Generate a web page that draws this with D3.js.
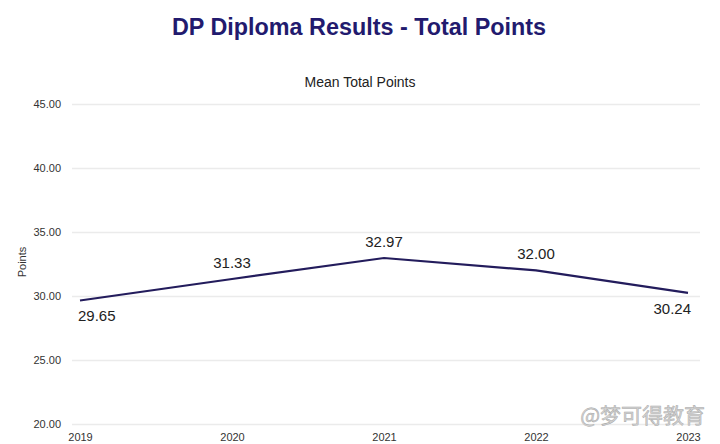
<!DOCTYPE html>
<html>
<head>
<meta charset="utf-8">
<script src="https://cdn.jsdelivr.net/npm/d3@7"></script>
<style>
  body { margin: 0; background: #fff; }
  svg { display: block; font-family: "Liberation Sans", Arial, sans-serif; }
</style>
</head>
<body>
<svg id="vis" width="720" height="444"></svg>
<script>
// chart data
var years = ["2019", "2020", "2021", "2022", "2023"];
var meanPoints = [29.65, 31.33, 32.97, 32.00, 30.24];
var yTicks = [20, 25, 30, 35, 40, 45];

var W = 720, H = 444;
var svg = d3.select("#vis");

// plot area (not "top" -- that's window.top)
var plotLeft = 72, plotRight = 700, plotTop = 104, plotBottom = 424;

var x = d3.scalePoint().domain(years).range([80, 688]);
var y = d3.scaleLinear().domain([20, 45]).range([plotBottom, plotTop]);

// title + subtitle
svg.append("text")
    .attr("x", 359).attr("y", 35)
    .attr("text-anchor", "middle")
    .attr("font-size", 23.5).attr("font-weight", "bold")
    .attr("fill", "#221a6e")
    .attr("textLength", 374).attr("lengthAdjust", "spacingAndGlyphs")
    .text("DP Diploma Results - Total Points");

svg.append("text")
    .attr("x", 360).attr("y", 87)
    .attr("text-anchor", "middle")
    .attr("font-size", 14).attr("fill", "#222")
    .text("Mean Total Points");

// gridlines + y labels
var yAxis = d3.axisLeft(y).tickValues(yTicks)
    .tickSize(-(plotRight - plotLeft)).tickPadding(11)
    .tickFormat(d3.format(".2f"));

var gy = svg.append("g").attr("transform", "translate(" + plotLeft + ",0)").call(yAxis);
gy.select(".domain").remove();
gy.selectAll(".tick line").attr("stroke", "#ebebeb").attr("stroke-width", 1.3);
gy.selectAll(".tick text").attr("font-size", 11).attr("fill", "#333")
    .attr("font-family", "Liberation Sans, Arial, sans-serif");

svg.append("text")
    .attr("transform", "translate(26," + 262 + ") rotate(-90)")
    .attr("text-anchor", "middle")
    .attr("font-size", 11).attr("fill", "#333")
    .text("Points");

// x labels
var xAxis = d3.axisBottom(x).tickSize(0).tickPadding(9);
var gx = svg.append("g").attr("transform", "translate(0," + plotBottom + ")").call(xAxis);
gx.select(".domain").remove();
gx.selectAll(".tick text").attr("font-size", 11).attr("fill", "#333")
    .attr("font-family", "Liberation Sans, Arial, sans-serif");

// the line
var line = d3.line()
    .x(function (d, i) { return x(years[i]); })
    .y(function (d) { return y(d); });

svg.append("path")
    .datum(meanPoints)
    .attr("d", line)
    .attr("fill", "none")
    .attr("stroke", "#231c5c")
    .attr("stroke-width", 2.2);

// value labels: ends below the line, middle ones above
svg.selectAll("text.val")
    .data(meanPoints)
    .enter()
    .append("text")
    .attr("class", "val")
    .attr("x", function (d, i) {
        if (i === 0) return x(years[i]) - 2;
        if (i === years.length - 1) return x(years[i]) + 3;
        return x(years[i]);
    })
    .attr("y", function (d, i) {
        if (i === 0 || i === years.length - 1) return y(d) + 21;
        return y(d) - 11;
    })
    .attr("text-anchor", function (d, i) {
        if (i === 0) return "start";
        if (i === years.length - 1) return "end";
        return "middle";
    })
    .attr("font-size", 15).attr("fill", "#222")
    .text(function (d) { return d.toFixed(2); });

// watermark
svg.append("text")
    .attr("x", 705).attr("y", 423)
    .attr("text-anchor", "end")
    .attr("font-size", 21)
    .attr("font-family", "Noto Sans CJK SC, sans-serif")
    .attr("fill", "#d4d4d4")
    .attr("stroke", "#a8a8a8").attr("stroke-width", 0.5)
    .text("@梦可得教育");
</script>
</body>
</html>
